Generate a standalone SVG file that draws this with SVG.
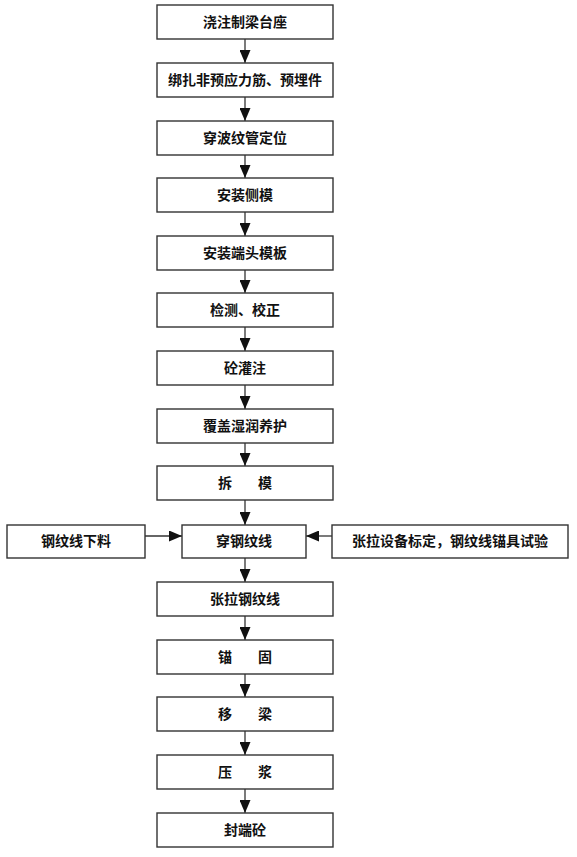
<svg xmlns="http://www.w3.org/2000/svg" width="577" height="857" viewBox="0 0 577 857">
<style>
.box{fill:#fff;stroke:#333;stroke-width:1.4}
.lbl{font-family:"Noto Sans CJK SC","Liberation Sans",sans-serif;font-size:14px;font-weight:700;fill:#111;text-anchor:middle}
.ln{stroke:#333;stroke-width:1.3;fill:none;marker-end:url(#ah)}
</style>
<defs>
<marker id="ah" markerUnits="userSpaceOnUse" viewBox="0 0 13 11" markerWidth="13" markerHeight="11" refX="13" refY="5.5" orient="auto">
<path d="M0,0 L13,5.5 L0,11 Z" fill="#111"/>
</marker>
</defs>
<rect width="577" height="857" fill="#fff"/>
<g id="connectors">
<line class="ln" x1="245" y1="39" x2="245" y2="63"/>
<line class="ln" x1="245" y1="97" x2="245" y2="121"/>
<line class="ln" x1="245" y1="155" x2="245" y2="178"/>
<line class="ln" x1="245" y1="212" x2="245" y2="236"/>
<line class="ln" x1="245" y1="270" x2="245" y2="293"/>
<line class="ln" x1="245" y1="327" x2="245" y2="351"/>
<line class="ln" x1="245" y1="385" x2="245" y2="409"/>
<line class="ln" x1="245" y1="443" x2="245" y2="466"/>
<line class="ln" x1="245" y1="500" x2="245" y2="525"/>
<line class="ln" x1="245" y1="558" x2="245" y2="582"/>
<line class="ln" x1="245" y1="616" x2="245" y2="640"/>
<line class="ln" x1="245" y1="674" x2="245" y2="697"/>
<line class="ln" x1="245" y1="731" x2="245" y2="755"/>
<line class="ln" x1="245" y1="789" x2="245" y2="813"/>
<line class="ln" x1="145" y1="536" x2="182" y2="536"/>
<line class="ln" x1="332" y1="536" x2="306" y2="536"/>
</g>
<g id="n1"><rect class="box" x="157" y="5" width="176" height="34"/><text class="lbl" x="245" y="27">浇注制梁台座</text></g>
<g id="n2"><rect class="box" x="157" y="63" width="176" height="34"/><text class="lbl" x="245" y="85">绑扎非预应力筋、预埋件</text></g>
<g id="n3"><rect class="box" x="157" y="121" width="176" height="34"/><text class="lbl" x="245" y="143">穿波纹管定位</text></g>
<g id="n4"><rect class="box" x="157" y="178" width="176" height="34"/><text class="lbl" x="245" y="200">安装侧模</text></g>
<g id="n5"><rect class="box" x="157" y="236" width="176" height="34"/><text class="lbl" x="245" y="258">安装端头模板</text></g>
<g id="n6"><rect class="box" x="157" y="293" width="176" height="34"/><text class="lbl" x="245" y="315">检测、校正</text></g>
<g id="n7"><rect class="box" x="157" y="351" width="176" height="34"/><text class="lbl" x="245" y="373">砼灌注</text></g>
<g id="n8"><rect class="box" x="157" y="409" width="176" height="34"/><text class="lbl" x="245" y="431">覆盖湿润养护</text></g>
<g id="n9"><rect class="box" x="157" y="466" width="176" height="34"/><text class="lbl" y="488"><tspan x="225">拆</tspan><tspan x="265">模</tspan></text></g>
<g id="n10"><rect class="box" x="182" y="525" width="124" height="33"/><text class="lbl" x="244" y="546">穿钢纹线</text></g>
<g id="n10a"><rect class="box" x="7" y="525" width="138" height="33"/><text class="lbl" x="76" y="546">钢纹线下料</text></g>
<g id="n10b"><rect class="box" x="332" y="525" width="236" height="33"/><text class="lbl" x="450" y="546">张拉设备标定，钢纹线锚具试验</text></g>
<g id="n11"><rect class="box" x="157" y="582" width="176" height="34"/><text class="lbl" x="245" y="604">张拉钢纹线</text></g>
<g id="n12"><rect class="box" x="157" y="640" width="176" height="34"/><text class="lbl" y="662"><tspan x="225">锚</tspan><tspan x="265">固</tspan></text></g>
<g id="n13"><rect class="box" x="157" y="697" width="176" height="34"/><text class="lbl" y="719"><tspan x="225">移</tspan><tspan x="265">梁</tspan></text></g>
<g id="n14"><rect class="box" x="157" y="755" width="176" height="34"/><text class="lbl" y="777"><tspan x="225">压</tspan><tspan x="265">浆</tspan></text></g>
<g id="n15"><rect class="box" x="157" y="813" width="176" height="34"/><text class="lbl" x="245" y="835">封端砼</text></g>
</svg>
